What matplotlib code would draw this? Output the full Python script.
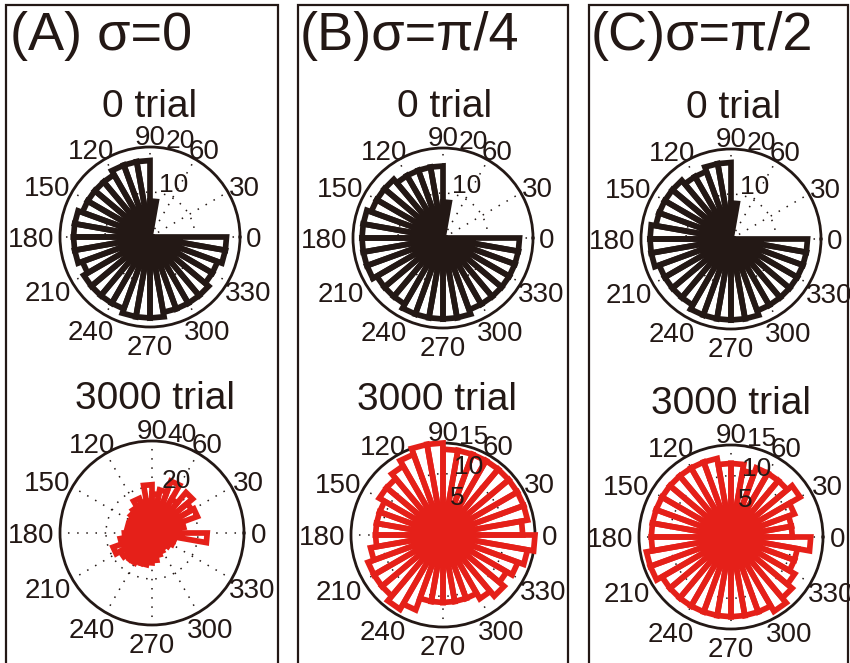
import numpy as np
import matplotlib
matplotlib.use('Agg')
import matplotlib.pyplot as plt
from matplotlib.patches import Rectangle

plt.rcParams['font.family'] = ['Liberation Sans', 'DejaVu Sans']

INK = '#231815'
RED = '#e52019'

W, H = 850, 663

# rose histogram bins, 10 degrees wide, edges from 0 to 360
bin_edges = np.arange(0, 361, 10)
angle_labels = list(range(0, 360, 30))

panel_titles = ['(A) σ=0', '(B)σ=π/4', '(C)σ=π/2']
row_titles = ['0 trial', '3000 trial']

# counts per bin (bins 0-10, 10-20, ..., 350-360)
counts_a0 = [0, 0, 0, 0, 0, 0, 0, 0, 8, 17, 17, 17, 16, 16, 16, 16, 17, 17,
             17, 17, 16, 17, 17, 17, 17, 18, 18, 18, 17, 17, 17, 17, 16, 16, 17, 17]
counts_b0 = [0, 0, 0, 0, 0, 0, 0, 0, 8, 16, 16, 16, 16, 17, 17, 17, 18, 18,
             18, 18, 18, 17, 17, 17, 18, 18, 18, 18, 18, 17, 17, 17, 17, 17, 17, 17]
counts_c0 = [0, 0, 0, 0, 0, 0, 0, 0, 8, 17, 17, 16, 16, 17, 17, 17, 17, 18,
             18, 18, 17, 17, 17, 17, 18, 18, 18, 18, 18, 17, 17, 17, 17, 17, 17, 17]

counts_a3000 = [12, 14, 21, 20, 23, 17, 24, 19, 17, 21, 14, 16, 13, 12, 11, 10, 11, 10,
                12, 14, 18, 16, 15, 15, 14, 14, 13, 12, 10, 9, 8, 8, 9, 10, 10, 24]
counts_b3000 = [13, 14, 14, 14, 14, 14, 14, 14, 14, 15, 15, 14, 13, 12, 12, 11, 11, 11,
                11, 12, 13, 13, 13, 14, 13, 11, 11, 11, 11, 11, 12, 13, 12, 13, 14, 15]
counts_c3000 = [10, 10, 11, 13, 12, 12, 12, 11, 12, 12, 13, 13, 13, 13, 13, 13, 13, 13,
                13, 14, 14, 13, 13, 13, 13, 13, 13, 13, 13, 13, 14, 13, 12, 11, 11, 13]

top_counts = [counts_a0, counts_b0, counts_c0]
bottom_counts = [counts_a3000, counts_b3000, counts_c3000]
top_rmax = [20, 20, 20]
bottom_rmax = [40, 15, 15]
top_rticks = [[10, 20], [10, 20], [10, 20]]
bottom_rticks = [[20, 40], [5, 10, 15], [5, 10, 15]]

# layout in pixels
top_centers = [(150, 237), (443, 238), (731, 239)]
bottom_centers = [(152, 533), (443, 535), (731, 537)]
top_radius, bottom_radius = 90, 92
boxes = [(6, 278), (298, 568), (589, 848)]
title_x = [10, 300, 591]
top_sub = [(150, 117), (445, 117), (734, 118)]
bottom_sub = [(155, 409), (437, 410), (731, 414)]

LABEL_FS = 20
RLABEL_FS = 19


def rose(fig, center, radius, counts, color, rmax, rticks):
    cx, cy = center
    ax = fig.add_axes([(cx - radius) / W, 1 - (cy + radius) / H,
                       2 * radius / W, 2 * radius / H], projection='polar')
    t = np.deg2rad(bin_edges)
    for i, c in enumerate(counts):
        if c == 0:
            continue
        ax.plot([0, t[i], t[i + 1], 0], [0, c, c, 0], color=color, lw=4.1,
                solid_joinstyle='miter', solid_capstyle='butt',
                clip_on=False, zorder=3)
    ax.set_ylim(0, rmax)
    ax.set_rticks(rticks)
    ax.set_yticklabels([])
    ax.set_thetagrids(angle_labels, labels=[''] * len(angle_labels))
    ax.grid(True, color=INK, linestyle=(0, (1, 5)), lw=1.1)
    ax.spines['polar'].set_linewidth(2.0)
    ax.spines['polar'].set_color(INK)
    ax.set_facecolor('none')

    # angle labels just outside the circle, pushed out by their own size
    for a in angle_labels:
        th = np.deg2rad(a)
        s = str(a)
        w = len(s) * 0.556 * LABEL_FS
        h = 0.716 * LABEL_FS
        sx, sy = np.cos(th), np.sin(th)
        dx = (0.32 if sx > 0 else 0.42) * w * sx
        dy = (0.15 if sy > 0 else 0.45) * h * sy - h / 2
        ax.annotate(s, xy=(th, 1.1 * rmax), xytext=(dx, dy),
                    textcoords='offset points', ha='center', va='baseline',
                    fontsize=LABEL_FS, color=INK, annotation_clip=False)
    for r in rticks:
        ax.annotate(str(r), xy=(np.deg2rad(82), r), xytext=(2, 5),
                    textcoords='offset points', ha='left', va='center',
                    fontsize=RLABEL_FS, color=INK, annotation_clip=False)
    return ax


fig = plt.figure(figsize=(W / 100, H / 100), dpi=100)
fig.patch.set_facecolor('white')

for k in range(3):
    x0, x1 = boxes[k]
    fig.add_artist(Rectangle((x0 / W, -0.1), (x1 - x0) / W, 1 - 5 / H + 0.1,
                             transform=fig.transFigure, fill=False,
                             lw=1.6, ec=INK))
    fig.text(title_x[k] / W, 1 - 50 / H, panel_titles[k], ha='left',
             va='baseline', fontsize=39, color=INK)
    sx, sy = top_sub[k]
    fig.text(sx / W, 1 - sy / H, row_titles[0], ha='center', va='baseline',
             fontsize=28, color=INK)
    sx, sy = bottom_sub[k]
    fig.text(sx / W, 1 - sy / H, row_titles[1], ha='center', va='baseline',
             fontsize=28, color=INK)

    rose(fig, top_centers[k], top_radius, top_counts[k], INK,
         top_rmax[k], top_rticks[k])
    rose(fig, bottom_centers[k], bottom_radius, bottom_counts[k], RED,
         bottom_rmax[k], bottom_rticks[k])

fig.savefig('out.png', dpi=100)
